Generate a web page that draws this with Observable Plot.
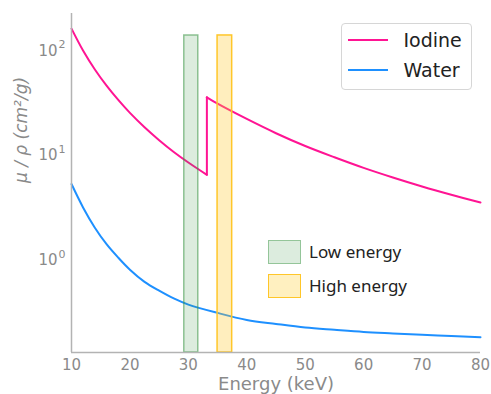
<!DOCTYPE html>
<html><head><meta charset="utf-8">
<script src="https://cdn.jsdelivr.net/npm/d3@7"></script>
<script src="https://cdn.jsdelivr.net/npm/@observablehq/plot@0.6"></script>
<style>
body{margin:0;background:#fff}
#wrap{position:relative;width:491px;height:394px;overflow:hidden}
.leg{position:absolute;box-sizing:border-box}
.item{position:absolute;white-space:nowrap}
</style></head><body><div id="wrap"></div><script>
// ---- data (mass attenuation coefficient, cm^2/g) ----
const kEdge = 33.17;
const iodineBelowE  = [10, 12, 14, 16, 18, 20, 22.5, 25, 27.5, 30, 33.17];
const iodineBelowMu = [162.6, 99.9, 66.2, 46.4, 33.9, 25.5, 18.6, 14.0, 10.8, 8.56, 6.53];
const iodineAboveE  = [33.17, 35, 40, 45, 50, 55, 60, 65, 70, 75, 80];
const iodineAboveMu = [35.9, 31.2, 22.3, 16.3, 12.3, 9.6, 7.6, 6.15, 5.05, 4.21, 3.55];
const waterE  = [10, 12, 14, 16, 18, 20, 22.5, 25, 27.5, 30, 35, 40, 45, 50, 55, 60, 65, 70, 75, 80];
const waterMu = [5.33, 3.17, 2.04, 1.42, 1.056, 0.810, 0.62, 0.51, 0.43, 0.3756, 0.313, 0.2683, 0.2456, 0.2269, 0.2157, 0.2059, 0.1995, 0.1937, 0.1885, 0.1837];
const seriesNames = ["Iodine", "Water"];
const seriesColors = ["#ff1493", "#1e90ff"];
const bandNames = ["Low energy", "High energy"];
const bandStart = [29.3, 35.0];
const bandEnd   = [31.7, 37.5];
const bandTop   = 140;
const xTicks = [10, 20, 30, 40, 50, 60, 70, 80];
const yTicks = [1, 10, 100];
const yTickBase = "10";
const yTickExp = ["0", "1", "2"];
const xDomain = [10, 80];
const yDomain = [0.131, 227];

// ---- build tables ----
const iodineRows = [
  ...iodineBelowE.map((e, i) => ({E: e, mu: iodineBelowMu[i], seg: "below"})),
  ...iodineAboveE.map((e, i) => ({E: e, mu: iodineAboveMu[i], seg: "above"}))
];
const edgeRows = [
  {E: kEdge, mu: iodineBelowMu[iodineBelowMu.length - 1]},
  {E: kEdge, mu: iodineAboveMu[0]}
];
const waterRows = waterE.map((e, i) => ({E: e, mu: waterMu[i]}));
const bands = bandNames.map((n, i) => ({name: n, x1: bandStart[i], x2: bandEnd[i], y1: yDomain[0], y2: bandTop}));
const bandStyle = [
  {fill: "rgb(60,150,70)", fillOpacity: 0.18, stroke: "rgb(60,150,70)", strokeOpacity: 0.55},
  {fill: "rgb(255,200,40)", fillOpacity: 0.3, stroke: "#ffc629", strokeOpacity: 1}
];
const yTickRows = yTicks.map((v, i) => ({v, exp: yTickExp[i]}));

const marks = [
  Plot.line(iodineRows, {x: "E", y: "mu", z: "seg", stroke: seriesColors[0], strokeWidth: 2, curve: "catmull-rom"}),
  Plot.line(edgeRows, {x: "E", y: "mu", stroke: seriesColors[0], strokeWidth: 2}),
  Plot.line(waterRows, {x: "E", y: "mu", stroke: seriesColors[1], strokeWidth: 2, curve: "catmull-rom"}),
  ...bands.map((b, i) => Plot.rect([b], {x1: "x1", x2: "x2", y1: "y1", y2: "y2", ...bandStyle[i], strokeWidth: 1.5})),
  Plot.ruleX([xDomain[0]], {stroke: "#b3b3b3", strokeWidth: 1.5}),
  Plot.ruleY([yDomain[0]], {stroke: "#b3b3b3", strokeWidth: 1.5}),
  Plot.axisX({ticks: xTicks, tickSize: 0, tickPadding: 6.5, label: null, fill: "#8a8a8a", fontSize: 15}),
  Plot.text(yTickRows, {y: "v", text: () => yTickBase, frameAnchor: "left", dx: -14, textAnchor: "end", fill: "#8a8a8a", fontSize: 15}),
  Plot.text(yTickRows, {y: "v", text: "exp", frameAnchor: "left", dx: -13, dy: -6, textAnchor: "start", fill: "#8a8a8a", fontSize: 11}),
  Plot.text(["Energy (keV)"], {frameAnchor: "bottom", lineAnchor: "middle", dy: 32, fill: "#8a8a8a", fontSize: 18}),
  Plot.text(["μ / ρ (cm²/g)"], {frameAnchor: "left", lineAnchor: "middle", dx: -50, rotate: -90, fill: "#8a8a8a", fontSize: 17, fontStyle: "italic"})
];

const chart = Plot.plot({
  width: 491, height: 394,
  marginLeft: 71, marginRight: 11, marginTop: 13, marginBottom: 42,
  style: {fontFamily: "DejaVu Sans", background: "white", overflow: "visible"},
  x: {domain: xDomain},
  y: {type: "log", domain: yDomain, axis: null},
  marks
});
const wrap = document.getElementById("wrap");
wrap.appendChild(chart);

// ---- legend 1: series ----
const leg1 = document.createElement("div");
leg1.className = "leg";
Object.assign(leg1.style, {left: "340.5px", top: "22.5px", width: "131px", height: "67px",
  border: "1px solid #d6d6d6", borderRadius: "4px", background: "rgba(255,255,255,0.85)",
  fontFamily: "'DejaVu Sans'", fontSize: "19px", color: "#222"});
seriesNames.forEach((name, i) => {
  const cy = 16 + i * 30;
  const sw = document.createElement("div");
  sw.className = "item";
  Object.assign(sw.style, {left: "6px", top: (cy - 1) + "px", width: "40px", height: "2px", background: seriesColors[i]});
  const t = document.createElement("div");
  t.className = "item";
  t.textContent = name;
  Object.assign(t.style, {left: "62px", top: (cy - 12) + "px", lineHeight: "24px"});
  leg1.appendChild(sw); leg1.appendChild(t);
});
wrap.appendChild(leg1);

// ---- legend 2: energy bands ----
const patchFill = ["#dcecde", "#fff0c0"];
const patchStroke = ["#94c599", "#ffc629"];
bandNames.forEach((name, i) => {
  const top = 239.5 + i * 34;
  const p = document.createElement("div");
  p.className = "leg";
  Object.assign(p.style, {left: "267.5px", top: top + "px", width: "33px", height: "24px",
    background: patchFill[i], border: "1.5px solid " + patchStroke[i]});
  const t = document.createElement("div");
  t.className = "item";
  t.textContent = name;
  Object.assign(t.style, {left: "309px", top: (top) + "px", lineHeight: "24px",
    fontFamily: "'Noto Sans'", fontSize: "17px", color: "#222"});
  wrap.appendChild(p); wrap.appendChild(t);
});
</script></body></html>
